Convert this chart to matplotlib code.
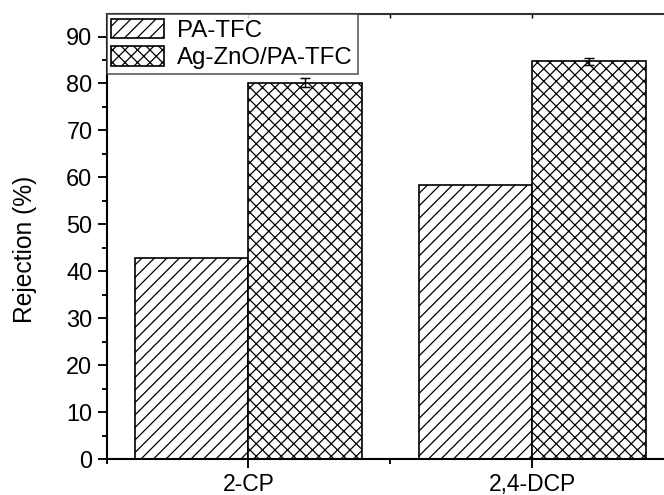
import matplotlib
matplotlib.use("Agg")
import matplotlib.pyplot as plt
import numpy as np
from matplotlib.ticker import MultipleLocator, FixedLocator

# Rejection of chlorophenols by the two membranes
categories = ["2-CP", "2,4-DCP"]
series_names = ["PA-TFC", "Ag-ZnO/PA-TFC"]
pa_tfc = [42.8, 58.4]
ag_zno = [80.2, 84.7]
ag_zno_err = [1.0, 0.7]

plt.rcParams["font.family"] = ["Liberation Sans", "DejaVu Sans"]
plt.rcParams["hatch.linewidth"] = 0.6
plt.rcParams["hatch.color"] = "black"

W, H, DPI = 664, 495, 150
fig = plt.figure(figsize=(W / DPI, H / DPI), dpi=DPI)

left_px, right_px = 106.5, 674.0
bottom_px, top_px = 36.0, 481.0
ax = fig.add_axes([left_px / W, bottom_px / H,
                   (right_px - left_px) / W, (top_px - bottom_px) / H])

x = np.arange(1, len(categories) + 1)
width = 0.4

ax.bar(x - width / 2, pa_tfc, width, color="white", edgecolor="black",
       hatch="////", linewidth=0.8, label=series_names[0], zorder=2)
ax.bar(x + width / 2, ag_zno, width, color="white", edgecolor="black",
       hatch="xxxx", linewidth=0.8, label=series_names[1], zorder=2)
ax.errorbar(x + width / 2, ag_zno, yerr=ag_zno_err, fmt="none",
            ecolor="black", elinewidth=0.7, capsize=2.2, capthick=0.7, zorder=3)

ax.set_xlim(0.5, 2.5)
ax.set_ylim(0, 94.8)

ax.set_xticks(x)
ax.set_xticklabels(categories)
ax.xaxis.set_minor_locator(FixedLocator([0.5, 1.5, 2.5]))
ax.yaxis.set_major_locator(MultipleLocator(10))
ax.yaxis.set_minor_locator(MultipleLocator(5))
ax.set_yticks(np.arange(0, 91, 10))

ax.spines["right"].set_visible(False)
for s in ["left", "bottom", "top"]:
    ax.spines[s].set_linewidth(1.0)
ax.spines["top"].set_color("#333333")

ax.tick_params(axis="both", which="major", direction="out", length=4.3,
               width=0.9, labelsize=11.3, pad=2.5)
ax.tick_params(axis="both", which="minor", direction="out", length=2.2,
               width=0.9)
ax.tick_params(axis="x", which="major", pad=2.5, labelsize=11)
ax.tick_params(axis="x", which="both", top=False)

# inward ticks along the top edge
top = ax.secondary_xaxis("top")
top.set_xticks([0.5, 1.0, 1.5, 2.0, 2.5])
top.tick_params(direction="in", length=2.0, width=0.7, labeltop=False)
top.spines["top"].set_visible(False)

ax.set_ylabel("Rejection (%)", fontsize=11.8)
ax.yaxis.set_label_coords(-0.122, 0.47)

leg = ax.legend(loc="upper left", bbox_to_anchor=(0, 1), borderaxespad=0,
                fontsize=11.5, frameon=True, fancybox=False,
                edgecolor="#333333", handlelength=2.2, handleheight=0.85,
                handletextpad=0.55, borderpad=0.2, labelspacing=0.2)
leg.get_frame().set_linewidth(0.8)
leg.set_zorder(5)

fig.savefig("out.png", dpi=DPI)
